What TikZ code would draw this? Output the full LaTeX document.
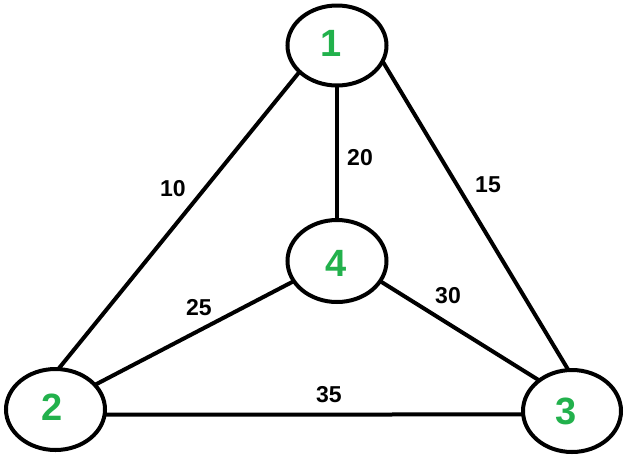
\documentclass[tikz,border=0pt]{standalone}
\usepackage{fontspec}
\setmainfont{Liberation Sans}
\usetikzlibrary{shapes.geometric}
\definecolor{vgreen}{HTML}{22B14C}
\tikzset{
  vertex/.style={ellipse, draw=black, line width=4pt, fill=white, inner sep=0pt, outer sep=0pt,
    minimum width=99pt, minimum height=80pt},
  vlabel/.style={text=vgreen, font=\fontsize{38}{40}\selectfont\bfseries, inner sep=0pt},
  elabel/.style={text=black, font=\fontsize{23}{25}\selectfont\bfseries, inner sep=0pt},
  edge/.style={draw=black, line width=4pt}
}
\begin{document}
\begin{tikzpicture}[x=1pt,y=-1pt]
\useasboundingbox (0,0) rectangle (632,475);
\node[vertex, label={[vlabel, xshift=-6pt, yshift=2pt]center:1}] (n1) at (337,45.5) {};
\node[vertex, minimum height=82pt, label={[vlabel, xshift=-1pt, yshift=-2pt]center:4}] (n4) at (337,261) {};
\node[vertex, minimum height=81pt, label={[vlabel, xshift=-3.5pt, yshift=2.5pt]center:2}] (n2) at (55.5,409.5) {};
\node[vertex, minimum width=98pt, minimum height=82pt, label={[vlabel, xshift=-5.5pt]center:3}] (n3) at (572,411) {};
\draw[edge] (n1.215.5) -- (n2.86.6);
\draw[edge] (n1.341.7) -- (n3.95.3);
\draw[edge] (n1.270) -- (n4.90);
\draw[edge] (n4.205) -- (n2.32.6);
\draw[edge] (n4.335) -- (n3.137.6);
\draw[edge] (n2.-6.4) -- (n3.184.7);
\node[elabel] (w12) at (173,189) {10};
\node[elabel] (w14) at (360,158) {20};
\node[elabel] (w13) at (488,185) {15};
\node[elabel] (w42) at (199,308) {25};
\node[elabel] (w43) at (448,296) {30};
\node[elabel] (w23) at (329,395) {35};
\end{tikzpicture}
\end{document}
